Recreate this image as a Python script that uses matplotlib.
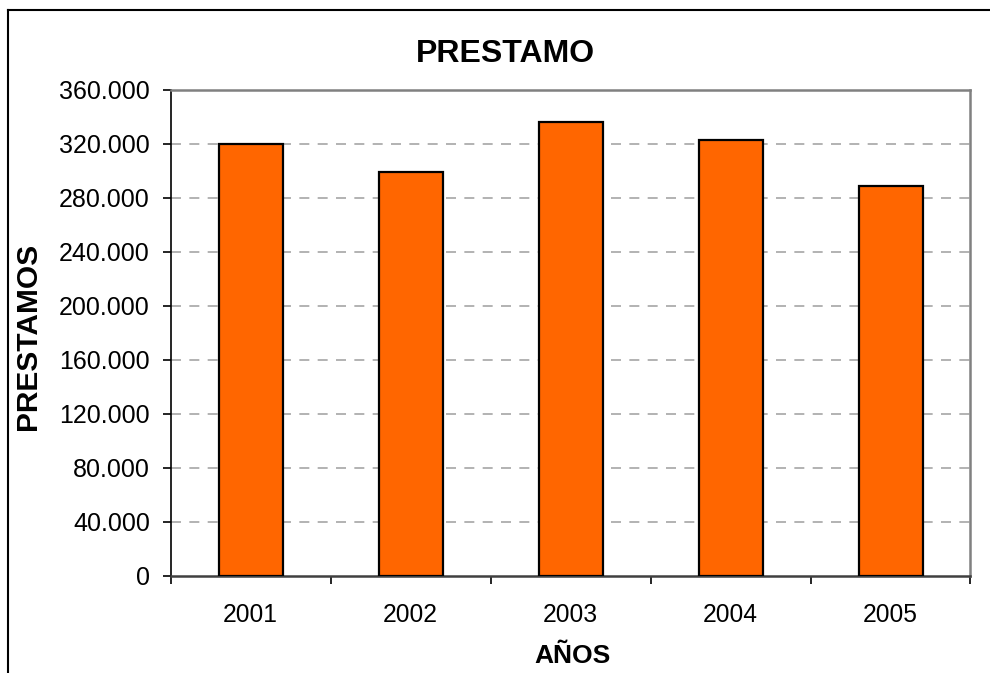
import matplotlib
matplotlib.use('Agg')
import matplotlib.pyplot as plt
from matplotlib.ticker import FuncFormatter, FixedLocator
from matplotlib.lines import Line2D

plt.rcParams['font.family'] = ['Liberation Sans', 'DejaVu Sans']

years = ['2001', '2002', '2003', '2004', '2005']
prestamos = [320000, 299300, 336500, 323000, 289000]
yticks = list(range(0, 360001, 40000))

fig = plt.figure(figsize=(9.9, 6.73), dpi=100)
ax = fig.add_axes([0.1724, 0.1446, 0.8079, 0.7217])

x = list(range(len(years)))
ax.bar(x, prestamos, width=0.4, color='#FF6600', edgecolor='black', linewidth=1.6, zorder=3)

ax.set_xlim(-0.5, 4.5)
ax.set_ylim(0, 360000)
ax.yaxis.set_major_locator(FixedLocator(yticks))
ax.yaxis.set_major_formatter(FuncFormatter(lambda v, p: f'{int(v):,}'.replace(',', '.')))
for v in yticks[1:-1]:
    ax.axhline(v, color='#a6a6a6', linewidth=1.2, dashes=(6, 5), zorder=1)

# ticks between categories, labels centered under bars
ax.set_xticks([i - 0.5 for i in range(len(years) + 1)])
ax.set_xticklabels([])
ax.set_xticks(x, minor=True)
ax.set_xticklabels(years, minor=True)
ax.tick_params(axis='x', which='minor', length=0, pad=20, labelsize=17.7)
ax.tick_params(axis='x', which='major', direction='out', length=6, width=1.2, color='black')
ax.tick_params(axis='y', direction='out', length=6, width=1.2, pad=9, labelsize=18, color='black')

ax.spines['top'].set_color('#808080')
ax.spines['right'].set_color('#808080')
ax.spines['top'].set_linewidth(1.8)
ax.spines['right'].set_linewidth(1.8)
ax.spines['left'].set_color('black')
ax.spines['left'].set_linewidth(1.2)
ax.spines['bottom'].set_color('#404040')
ax.spines['bottom'].set_linewidth(1.8)

fig.text(505 / 990, 1 - 54 / 673, 'PRESTAMO', ha='center', va='center', fontsize=23, fontweight='bold')
fig.text(572 / 990, 1 - 656 / 673, 'AÑOS', ha='center', va='center', fontsize=19, fontweight='bold')
fig.text(28 / 990, 1 - 336 / 673, 'PRESTAMOS', ha='center', va='center', rotation=90, fontsize=21.5, fontweight='bold')

# outer chart frame (left and top edges visible)
fig.add_artist(Line2D([8 / 990, 8 / 990], [0, 1 - 10 / 673], color='black', linewidth=1.5, transform=fig.transFigure))
fig.add_artist(Line2D([8 / 990, 1], [1 - 10 / 673, 1 - 10 / 673], color='black', linewidth=1.5, transform=fig.transFigure))

fig.savefig('out.png', dpi=100)
